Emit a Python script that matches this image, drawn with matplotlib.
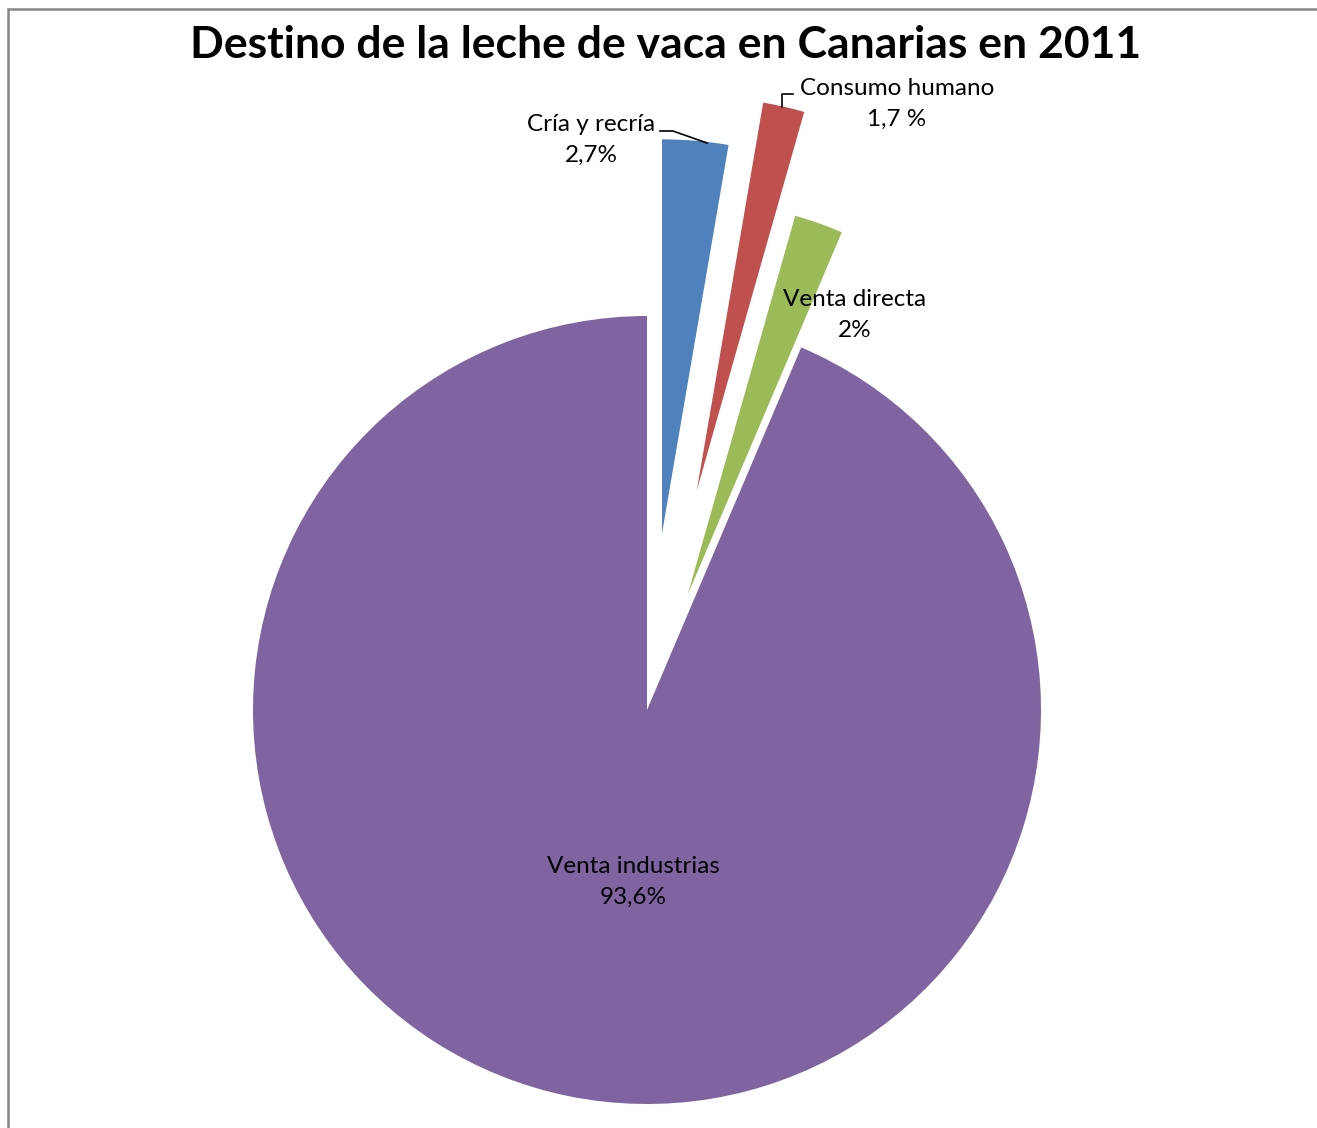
import matplotlib
matplotlib.use("Agg")
import matplotlib.pyplot as plt
from matplotlib.patches import Rectangle

# Destino de la leche de vaca, Canarias 2011
categorias = ["Cría y recría", "Consumo humano", "Venta directa", "Venta industrias"]
porcentajes = [2.7, 1.7, 2.0, 93.6]
etiquetas_valor = ["2,7%", "1,7 %", "2%", "93,6%"]
separacion = [0.45, 0.57, 0.31, 0.0]
colores = ["#4F81BD", "#C0504D", "#9BBB59", "#8064A2"]

plt.rcParams["font.family"] = ["Lato", "DejaVu Sans"]

W, H = 1317, 1128
R = 394.0           # pie radius in pixels
cx, cy = 647, 710   # pie centre in pixels (from top-left)

fig = plt.figure(figsize=(W / 100, H / 100), dpi=100)
ax = fig.add_axes([0, 0, 1, 1])

ax.pie(porcentajes, explode=separacion, colors=colores, startangle=90,
       counterclock=False, radius=1.0, wedgeprops=dict(linewidth=0))

# pie() resets the limits, so set them afterwards
ax.set_xlim(-cx / R, (W - cx) / R)
ax.set_ylim(-(H - cy) / R, cy / R)
ax.set_aspect("equal")
ax.axis("off")


def px(x, y):
    return (x - cx) / R, (cy - y) / R


# data labels
posiciones = [(591, 140), (897, 104), (855, 315), (633, 882)]
for cat, val, (x, y) in zip(categorias, etiquetas_valor, posiciones):
    ax.text(*px(x, y), f"{cat}\n{val}", ha="center", va="center",
            fontsize=17.5, linespacing=1.55, color="black")

# leader lines
for pts in ([(660, 131), (673, 131), (707, 143)],
            [(793, 94), (782, 94), (782, 107)]):
    xs, ys = zip(*[px(x, y) for x, y in pts])
    ax.plot(xs, ys, color="black", lw=1.2)

fig.text(666 / W, 1 - 45 / H, "Destino de la leche de vaca en Canarias en 2011",
         ha="center", va="center", fontsize=32, fontweight="bold")

# chart border
fig.add_artist(Rectangle((8 / W, -0.1), 1.2, 1 - 9 / H + 0.1, transform=fig.transFigure,
                         fill=False, edgecolor="#868686", linewidth=1.8))

fig.savefig("out.png", dpi=100)
